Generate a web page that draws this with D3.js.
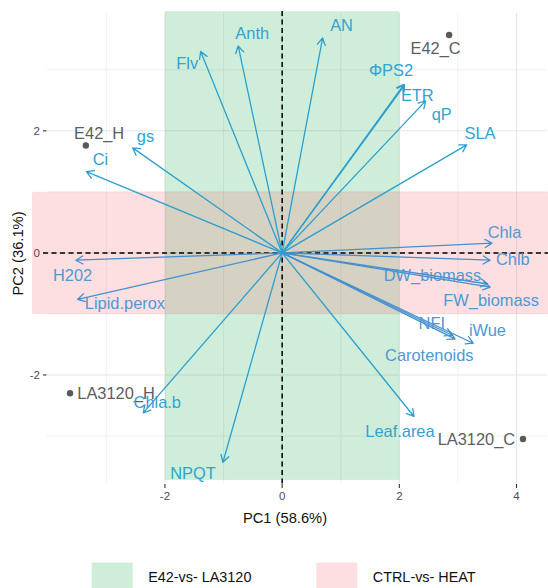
<!DOCTYPE html>
<html>
<head>
<meta charset="utf-8">
<script src="https://cdn.jsdelivr.net/npm/d3@7"></script>
<style>
  body { margin: 0; background: #fff; }
  svg { display: block; }
  text { font-family: "Liberation Sans", Arial, Helvetica, sans-serif; }
</style>
</head>
<body>
<svg id="chart" width="548" height="588"></svg>
<script>
// PCA biplot: variable loadings (arrows) and sample scores (points)
const variables = ["Flv", "Anth", "AN", "ΦPS2", "ETR", "qP", "SLA", "gs", "Ci", "H202",
  "Lipid.perox", "Chla", "Chlb", "DW_biomass", "FW_biomass", "NFI", "Carotenoids", "iWue",
  "Leaf.area", "Chla.b", "NPQT"];
const varPC1 = [-1.39, -0.75, 0.69, 2.08, 2.09, 2.45, 3.15, -2.55, -3.34, -3.52,
  -3.49, 3.58, 3.55, 3.51, 3.55, 2.90, 2.95, 3.26, 2.25, -2.37, -1.01];
const varPC2 = [3.30, 3.39, 3.52, 2.76, 2.75, 2.49, 1.77, 1.72, 1.33, -0.12,
  -0.76, 0.16, -0.12, -0.51, -0.56, -1.35, -1.41, -1.48, -2.68, -2.62, -3.43];
// loading strength group (0 = cyan, 1 = steel blue)
const varGroup = [0, 0, 0, 0, 0, 0, 0, 0, 0, 1,
  1, 1, 1, 1, 1, 1, 1, 1, 0, 0, 0];

const samples = ["E42_H", "E42_C", "LA3120_H", "LA3120_C"];
const samplePC1 = [-3.35, 2.85, -3.62, 4.11];
const samplePC2 = [1.76, 3.57, -2.30, -3.05];

const xTicks = [-2, 0, 2, 4];
const yTicks = [-2, 0, 2];
const xMinor = [-3, -1, 1, 3];
const yMinor = [-3, -1, 1, 3];

const axisTitles = ["PC1 (58.6%)", "PC2 (36.1%)"];
const legendLabels = ["E42-vs- LA3120", "CTRL-vs- HEAT"];

// Highlight zones: genotype band along PC1, treatment band along PC2
const genotypeZonePC1 = [-2, 2];
const genotypeZonePC2 = [-3.72, 3.96];
const treatmentZonePC1 = [-4.27, 4.6];
const treatmentZonePC2 = [-1, 1];

// ---- layout ----
const svg = d3.select("#chart");
const x = d3.scaleLinear().domain([-4.013, 4.52]).range([47, 547]);
const y = d3.scaleLinear().domain([-3.77, 3.93]).range([483, 13]);

const zoneFill = ["rgba(10,170,70,0.2)", "rgba(245,93,103,0.2)"];
const arrowColors = ["#2b9fd0", "#4490d0"];
const labelColors = ["#31a2d4", "#4e98d6"];

// label placement offsets (px) relative to arrow tips / points
const varNudge = {
  "Flv": [-13.5, 12], "Anth": [14, -13], "AN": [19, -12.3], "ΦPS2": [-13, -14.3],
  "ETR": [12.7, 10.7], "qP": [16, 13], "SLA": [13.3, -12], "gs": [12.7, -12],
  "Ci": [14, -12.7], "H202": [-3.3, 15], "Lipid.perox": [47.3, 3.7], "Chla": [12.6, -10.6],
  "Chlb": [22.7, -0.7], "DW_biomass": [-55.3, -9], "FW_biomass": [1, 13], "NFI": [-20.3, -11.7],
  "Carotenoids": [-25.7, 16.7], "iWue": [14.3, -13], "Leaf.area": [-14, 14.3],
  "Chla.b": [14, -11], "NPQT": [-30, 11]
};
const sampleNudge = {
  "E42_H": [13.3, -12.6], "E42_C": [-13.6, 13.3], "LA3120_H": [46, 0], "LA3120_C": [-46.6, 0]
};

// grid
const grid = svg.append("g");
xMinor.forEach(v => grid.append("line").attr("x1", x(v)).attr("x2", x(v)).attr("y1", 13).attr("y2", 483)
  .attr("stroke", "#ececec").attr("stroke-width", 0.8));
yMinor.forEach(v => grid.append("line").attr("y1", y(v)).attr("y2", y(v)).attr("x1", 47).attr("x2", 547)
  .attr("stroke", "#ececec").attr("stroke-width", 0.8));
xTicks.forEach(v => grid.append("line").attr("x1", x(v)).attr("x2", x(v)).attr("y1", 13).attr("y2", 483)
  .attr("stroke", "#e6e6e6").attr("stroke-width", 1.1));
yTicks.forEach(v => grid.append("line").attr("y1", y(v)).attr("y2", y(v)).attr("x1", 47).attr("x2", 547)
  .attr("stroke", "#e6e6e6").attr("stroke-width", 1.1));

// zones
svg.append("rect")
  .attr("x", x(genotypeZonePC1[0])).attr("width", x(genotypeZonePC1[1]) - x(genotypeZonePC1[0]))
  .attr("y", y(genotypeZonePC2[1])).attr("height", y(genotypeZonePC2[0]) - y(genotypeZonePC2[1]))
  .attr("fill", zoneFill[0]);
svg.append("rect")
  .attr("x", x(treatmentZonePC1[0])).attr("width", x(treatmentZonePC1[1]) - x(treatmentZonePC1[0]))
  .attr("y", y(treatmentZonePC2[1])).attr("height", y(treatmentZonePC2[0]) - y(treatmentZonePC2[1]))
  .attr("rx", 2)
  .attr("fill", zoneFill[1]);

// reference lines through origin
svg.append("line").attr("x1", x(0)).attr("x2", x(0)).attr("y1", 11).attr("y2", 484)
  .attr("stroke", "#000").attr("stroke-width", 1.5).attr("stroke-dasharray", "5,3.5");
svg.append("line").attr("x1", 43).attr("x2", 548).attr("y1", y(0)).attr("y2", y(0))
  .attr("stroke", "#000").attr("stroke-width", 1.5).attr("stroke-dasharray", "5,3.5");

// axis ticks and labels
const axisG = svg.append("g");
xTicks.forEach(v => {
  axisG.append("line").attr("x1", x(v)).attr("x2", x(v)).attr("y1", 484).attr("y2", 488)
    .attr("stroke", "#333").attr("stroke-width", 1.1);
  axisG.append("text").attr("x", x(v)).attr("y", 496).attr("dy", "0.35em")
    .attr("text-anchor", "middle").attr("font-size", 11.5).attr("fill", "#4d4d4d").text(v);
});
yTicks.forEach(v => {
  axisG.append("line").attr("x1", 43).attr("x2", 46.5).attr("y1", y(v)).attr("y2", y(v))
    .attr("stroke", "#333").attr("stroke-width", 1.1);
  axisG.append("text").attr("x", 40).attr("y", y(v)).attr("dy", "0.35em")
    .attr("text-anchor", "end").attr("font-size", 11.5).attr("fill", "#4d4d4d").text(v);
});
axisG.append("text").attr("x", 285).attr("y", 518).attr("dy", "0.35em")
  .attr("text-anchor", "middle").attr("font-size", 14.7).attr("fill", "#111").text(axisTitles[0]);
axisG.append("text").attr("transform", "translate(18,253.5) rotate(-90)").attr("dy", "0.35em")
  .attr("text-anchor", "middle").attr("font-size", 14.7).attr("fill", "#111").text(axisTitles[1]);

// loading arrows
const ox = x(0), oy = y(0);
const head = 8, ang = Math.PI / 6;
const arrows = svg.append("g");
variables.forEach((name, i) => {
  const tx = x(varPC1[i]), ty = y(varPC2[i]);
  const a = Math.atan2(ty - oy, tx - ox);
  const col = arrowColors[varGroup[i]];
  const h1 = [tx - head * Math.cos(a - ang), ty - head * Math.sin(a - ang)];
  const h2 = [tx - head * Math.cos(a + ang), ty - head * Math.sin(a + ang)];
  arrows.append("path")
    .attr("d", `M${ox},${oy}L${tx},${ty}M${h1[0]},${h1[1]}L${tx},${ty}L${h2[0]},${h2[1]}`)
    .attr("fill", "none").attr("stroke", col).attr("stroke-width", 1.3)
    .attr("stroke-linecap", "round").attr("stroke-linejoin", "round");
});

// sample points
const pts = svg.append("g");
samples.forEach((name, i) => {
  const px = x(samplePC1[i]), py = y(samplePC2[i]);
  pts.append("circle").attr("cx", px).attr("cy", py).attr("r", 3.2).attr("fill", "#595959");
  const n = sampleNudge[name];
  pts.append("text").attr("x", px + n[0]).attr("y", py + n[1]).attr("dy", "0.35em")
    .attr("text-anchor", "middle").attr("font-size", 16.4).attr("fill", "#5e5e5e").text(name);
});

// variable labels
const labs = svg.append("g");
variables.forEach((name, i) => {
  const tx = x(varPC1[i]), ty = y(varPC2[i]);
  const n = varNudge[name];
  labs.append("text").attr("x", tx + n[0]).attr("y", ty + n[1]).attr("dy", "0.35em")
    .attr("text-anchor", "middle").attr("font-size", 16.4).attr("fill", labelColors[varGroup[i]])
    .text(name);
});

// legend
const leg = svg.append("g");
const legX = [91.7, 316.3];
legendLabels.forEach((lab, i) => {
  leg.append("rect").attr("x", legX[i]).attr("y", 562.5).attr("width", 41).attr("height", 30)
    .attr("fill", zoneFill[i]);
  leg.append("text").attr("x", legX[i] + 56.5).attr("y", 577).attr("dy", "0.35em")
    .attr("font-size", 14.4).attr("fill", "#111").text(lab);
});
</script>
</body>
</html>
